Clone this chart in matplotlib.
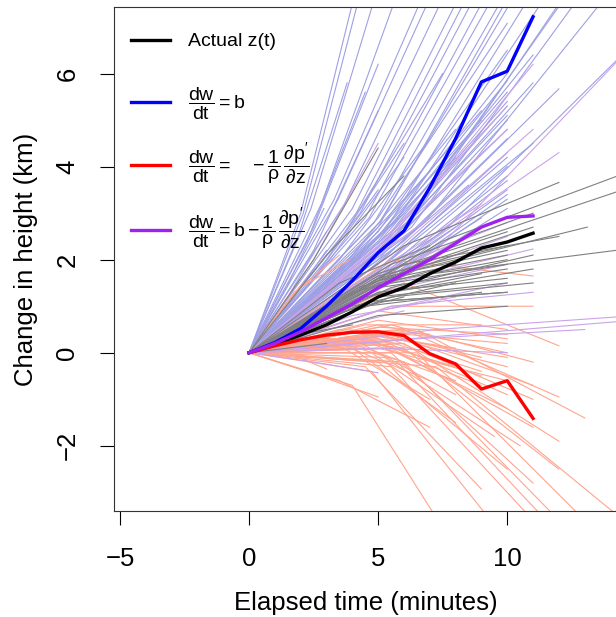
import matplotlib.pyplot as plt
from matplotlib.lines import Line2D

plt.rcParams['font.family'] = ['Liberation Sans', 'DejaVu Sans']
plt.rcParams['mathtext.fontset'] = 'custom'
plt.rcParams['mathtext.rm'] = 'Liberation Sans'
plt.rcParams['mathtext.it'] = 'Liberation Sans'
plt.rcParams['mathtext.bf'] = 'Liberation Sans:bold'

# mean trajectories, one value per minute
minutes = list(range(12))
actual_z = [0, 0.18, 0.38, 0.6, 0.88, 1.2, 1.4, 1.7, 1.95, 2.25, 2.38, 2.57]
buoy_z = [0, 0.22, 0.52, 1.0, 1.55, 2.15, 2.62, 3.55, 4.6, 5.82, 6.05, 7.22]
pres_z = [0, 0.15, 0.28, 0.38, 0.44, 0.45, 0.37, -0.02, -0.24, -0.78, -0.6, -1.41]
both_z = [0, 0.2, 0.45, 0.75, 1.05, 1.4, 1.7, 2.0, 2.35, 2.7, 2.91, 2.94]

# individual parcels: end time, height at half of end time, height at end
blue_end_t = [2.9, 3.0, 3.0, 4.0, 4.2, 4.8, 5.0, 5.6, 6.6, 6.9, 7.4, 8.0, 8.3, 8.6,
              9.0, 9.3, 9.7, 10.0, 10.1, 10.0, 10.7, 10.0, 11.3, 11.0, 12.0, 12.0,
              12.6, 13.6, 15.0, 10.0, 10.0, 10.0, 10.0, 10.0, 10.0, 8.5, 10.0, 10.0,
              11.0, 8.0, 7.0, 3.0, 4.0, 3.0, 6.0, 9.0, 10.0, 5.0, 6.0, 7.5,
              10.0, 10.0, 10.0, 10.0, 10.0, 10.0, 10.0, 8.0, 9.0, 7.0, 6.0, 5.0,
              4.5, 3.8, 10.0, 11.0, 12.2, 10.0, 9.0, 8.0]
blue_mid_z = [1.4, 1.2, 1.0, 3.0, 3.0, 3.1, 2.7, 3.2, 3.3, 3.3, 3.2, 3.1, 3.0, 3.0,
              2.9, 2.9, 2.8, 2.9, 2.8, 2.6, 2.7, 2.4, 2.8, 2.4, 2.6, 2.4,
              2.7, 2.8, 2.6, 2.0, 1.9, 1.8, 1.6, 1.5, 1.4, 1.6, 2.2, 2.5,
              2.0, 1.9, 1.8, 0.1, 0.1, 0.05, 1.4, 2.3, 2.1, 1.6, 2.0, 2.6,
              2.15, 2.25, 2.35, 1.75, 1.65, 1.55, 1.45, 2.1, 2.2, 2.0, 1.9, 2.2,
              2.4, 2.5, 2.7, 2.6, 2.8, 1.35, 1.3, 1.25]
blue_end_z = [3.1, 2.6, 2.2, 7.5, 7.5, 7.5, 6.2, 7.5, 7.5, 7.5, 7.5, 7.5, 7.5, 7.5,
              7.5, 7.5, 7.5, 7.08, 7.5, 6.5, 7.5, 5.85, 7.5, 5.8, 7.5, 5.67,
              7.5, 7.5, 6.7, 5.0, 4.6, 4.2, 3.8, 3.5, 3.3, 3.6, 5.3, 6.0,
              4.5, 4.2, 3.9, 0.25, 0.2, 0.1, 3.0, 5.2, 4.8, 3.5, 4.5, 6.0,
              5.1, 5.4, 5.6, 4.3, 4.0, 3.7, 3.4, 4.8, 5.0, 4.6, 4.2, 5.2,
              5.6, 5.8, 7.6, 6.4, 7.6, 3.1, 2.9, 2.7]

salmon_end_t = [3.9, 3.5, 11.0, 12.0, 11.0, 10.0, 10.0, 10.0, 11.0, 12.0, 13.0, 10.0,
                9.0, 9.0, 8.0, 8.0, 10.0, 10.0, 11.0, 3.0, 9.0, 8.0, 9.5, 11.0, 11.5,
                12.0, 14.5, 10.0, 11.0, 12.0, 8.0, 7.0, 6.0, 5.0, 4.0, 6.0, 7.0, 9.0,
                10.0, 5.0, 7.0, 10.0, 8.0, 9.0, 11.0, 6.0,
                10.0, 10.0, 9.0, 8.0, 7.0, 11.0, 12.0, 13.0, 6.0, 4.5, 10.5, 9.5]
salmon_mid_z = [1.4, 1.3, 2.0, 1.5, 1.0, 0.9, 0.7, 0.6, 0.6, 0.5, 0.5, 0.4,
                0.4, 0.3, 0.35, 0.2, 0.3, 0.2, 0.1, 0.0, -0.3, -0.7, -0.4, -0.3, -0.2,
                -0.2, -0.3, -0.2, 0.0, 0.1, 0.1, 0.2, 0.25, 0.3, 0.2, 0.4, 0.5, 0.6,
                0.1, -0.45, -0.6, 0.45, 0.45, 0.5, 0.4, 0.3,
                0.55, 0.35, 0.25, 0.3, 0.15, 0.3, 0.2, 0.0, 0.3, 0.1, -0.1, 0.0]
salmon_end_z = [2.0, 2.1, 1.65, 0.15, 1.0, 0.5, 0.3, 0.0, -0.2, -0.95, -1.4, -0.3,
                -0.4, -0.5, -0.3, -0.6, -0.9, -1.2, -1.6, -0.35, -2.93, -4.2, -3.7, -3.6, -3.6,
                -3.6, -3.6, -2.5, -2.8, -2.5, -1.5, -0.6, 0.2, 0.3, 0.35, 0.5, 0.4, 0.6,
                -0.6, -0.95, -1.6, 0.2, 0.1, -0.1, -0.7, -0.2,
                0.4, -0.1, -0.7, -0.9, -1.0, -1.0, -1.9, -3.6, 0.1, 0.1, -2.0, -1.8]

gray_end_t = [5.0, 6.0, 10.0, 10.0, 10.0, 10.0, 10.0, 10.0, 10.0, 10.0, 11.0, 11.0,
              11.0, 11.0, 11.0, 12.0, 12.0, 13.1, 14.2, 15.0, 15.0, 8.5, 8.0, 6.0,
              4.0, 3.0, 9.0, 10.0, 10.0, 9.0, 8.0, 10.0, 10.0, 7.0]
gray_mid_z = [2.0, 2.1, 1.1, 1.2, 1.3, 1.4, 1.45, 1.5, 1.55, 1.6, 1.4, 1.3,
              1.2, 1.7, 1.9, 1.9, 2.3, 1.8, 1.7, 2.4, 2.2, 1.4, 1.0, 0.8,
              0.4, 0.1, 1.0, 1.1, 0.8, 1.2, 1.3, 1.65, 1.7, 1.5]
gray_end_z = [4.4, 3.8, 1.3, 1.5, 1.6, 1.8, 1.9, 2.0, 2.1, 2.2, 2.1, 1.8,
              1.5, 2.7, 3.0, 2.5, 3.66, 2.7, 2.2, 3.95, 3.6, 2.2, 1.5, 1.2,
              0.6, 0.2, 1.3, 1.3, 1.0, 1.7, 1.9, 2.3, 2.6, 2.3]

purple_end_t = [11.0, 10.0, 10.0, 12.0, 11.0, 14.5, 11.0, 11.0, 10.0, 10.0, 10.0,
                14.5, 14.5, 13.0, 10.0, 5.0, 6.0, 8.0, 5.0, 10.0, 9.0, 7.0]
purple_mid_z = [2.5, 2.3, 2.2, 2.0, 2.1, 2.2, 1.5, 1.0, 1.3, 1.5, 1.7,
                0.5, 0.35, 0.3, 0.1, -0.2, 0.5, 0.8, 2.0, 0.9, 1.6, 1.5]
purple_end_z = [6.2, 5.3, 4.8, 4.3, 4.8, 6.4, 2.23, 1.3, 1.9, 2.5, 2.8,
                0.78, 0.68, 0.5, 0.0, -0.43, 0.9, 1.2, 4.5, 1.5, 3.2, 2.9]

fig = plt.figure(figsize=(6.16, 6.17), dpi=100)
ax = fig.add_axes([114 / 616, 1 - 511 / 617, 504 / 616, 504 / 617])


def parcels(end_t, mid_z, end_z, color):
    for t, m, e in zip(end_t, mid_z, end_z):
        ax.plot([0, t / 2, t], [0, m, e], color=color, lw=0.8, zorder=1)


parcels(blue_end_t, blue_mid_z, blue_end_z, '#9ea0e4')
parcels(salmon_end_t, salmon_mid_z, salmon_end_z, '#ffa58f')
parcels(purple_end_t, purple_mid_z, purple_end_z, '#cba3ea')
parcels(gray_end_t, gray_mid_z, gray_end_z, '#808080')

ax.plot(minutes, actual_z, color='black', lw=2.4, zorder=3)
ax.plot(minutes, buoy_z, color='#0000ff', lw=2.4, zorder=3)
ax.plot(minutes, pres_z, color='#ff0000', lw=2.4, zorder=3)
ax.plot(minutes, both_z, color='#a020f0', lw=2.4, zorder=3)

ax.set_xlim(-5.23, 14.29)
ax.set_ylim(-3.40, 7.43)
ax.set_xticks([-5, 0, 5, 10])
ax.set_yticks([-2, 0, 2, 4, 6])
ax.set_xticklabels(['\u22125', '0', '5', '10'])
ax.set_yticklabels(['\u22122', '0', '2', '4', '6'], rotation=90, va='center')
ax.tick_params(length=10, width=0.8, labelsize=18.5)
ax.tick_params(axis='x', pad=16)
ax.tick_params(axis='y', pad=15)
for s in ax.spines.values():
    s.set_linewidth(0.8)
    s.set_color('#333333')
ax.set_xlabel('Elapsed time (minutes)', fontsize=18.5, labelpad=14)
ax.set_ylabel('Change in height (km)', fontsize=18.5, labelpad=12.5)

lab_actual = 'Actual z(t)'
lab_b = r'$\dfrac{dw}{dt} = b$'
lab_p = r"$\dfrac{dw}{dt} = \ \ \ -\dfrac{1}{\rho}\,\dfrac{\partial p'}{\partial z}$"
lab_bp = r"$\dfrac{dw}{dt} = b - \dfrac{1}{\rho}\,\dfrac{\partial p'}{\partial z}$"

leg1 = ax.legend([Line2D([], [], color='black', lw=2.4)], [lab_actual],
                 loc='upper left', bbox_to_anchor=(0.034, 0.949), frameon=False,
                 fontsize=14, handlelength=2.0, handletextpad=0.9,
                 borderaxespad=0, borderpad=0)
ax.add_artist(leg1)
ax.legend([Line2D([], [], color=c, lw=2.4) for c in ['#0000ff', '#ff0000', '#a020f0']],
          [lab_b, lab_p, lab_bp], loc='upper left', bbox_to_anchor=(0.034, 0.844),
          frameon=False, fontsize=14, handlelength=2.0, handletextpad=0.9,
          borderaxespad=0, borderpad=0, labelspacing=1.0)

fig.savefig('out.png', dpi=100)
